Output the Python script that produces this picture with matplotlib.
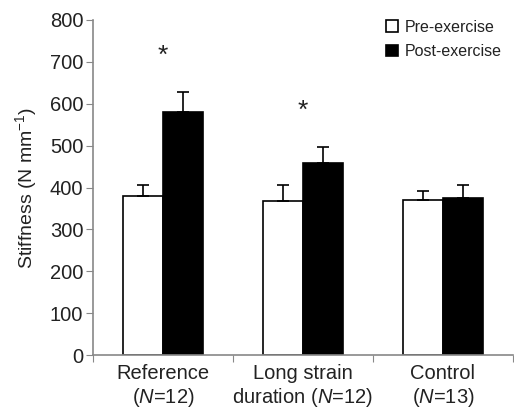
import numpy as np
import matplotlib
matplotlib.use('Agg')
import matplotlib.pyplot as plt

plt.rcParams['font.family'] = ['Liberation Sans', 'DejaVu Sans']
plt.rcParams['mathtext.fontset'] = 'custom'
plt.rcParams['mathtext.rm'] = 'Liberation Sans'
plt.rcParams['mathtext.it'] = 'Liberation Sans:italic'

groups = ['Reference\n($\\mathit{N}$=12)', 'Long strain\nduration ($\\mathit{N}$=12)', 'Control\n($\\mathit{N}$=13)']
pre = [379, 367, 370]
pre_err = [28, 39, 22]
post = [581, 458, 375]
post_err = [47, 38, 30]
star_y = [715, 582]

text_col = '#222222'
spine_col = '#888888'

fig = plt.figure(figsize=(5.14, 4.13), dpi=100)
ax = fig.add_axes([0.181, 0.140, 0.817, 0.812])

x = np.arange(len(groups)) + 0.5
w = 0.286
ax.bar(x - w / 2, pre, w, color='white', edgecolor='black', linewidth=1.2,
       yerr=[np.zeros(3), pre_err], capsize=4,
       error_kw=dict(ecolor='black', elinewidth=1.2, capthick=1.2), label='Pre-exercise')
ax.bar(x + w / 2, post, w, color='black', edgecolor='black', linewidth=1.2,
       yerr=[np.zeros(3), post_err], capsize=4,
       error_kw=dict(ecolor='black', elinewidth=1.2, capthick=1.2), label='Post-exercise')

for i, sy in enumerate(star_y):
    ax.text(x[i], sy, '*', ha='center', va='center', fontsize=19, color=text_col)

ax.set_xlim(0, 3)
ax.set_ylim(0, 800)
ax.set_yticks(range(0, 801, 100))
ax.set_xticks([0, 1, 2, 3])
ax.set_xticklabels([])
ax.set_xticks(x, minor=True)
ax.set_xticklabels(groups, minor=True)
ax.tick_params(axis='x', which='minor', length=0, labelsize=14.5, colors=text_col, pad=6)
ax.tick_params(axis='x', which='major', length=5, color=spine_col)
ax.tick_params(axis='y', labelsize=14.5, colors=text_col, color=spine_col, length=5, pad=2)
ax.set_ylabel('Stiffness (N mm$^{-1}$)', fontsize=14, color=text_col, labelpad=8)

for s in ['top', 'right']:
    ax.spines[s].set_visible(False)
for s in ['left', 'bottom']:
    ax.spines[s].set_color(spine_col)
    ax.spines[s].set_linewidth(1.2)

leg = ax.legend(loc='upper left', bbox_to_anchor=(0.683, 1.02), frameon=False, fontsize=11.5,
                handlelength=0.75, handleheight=0.75, handletextpad=0.4, labelspacing=0.6,
                borderaxespad=0)
for t in leg.get_texts():
    t.set_color(text_col)

fig.savefig('out.png', dpi=100)
